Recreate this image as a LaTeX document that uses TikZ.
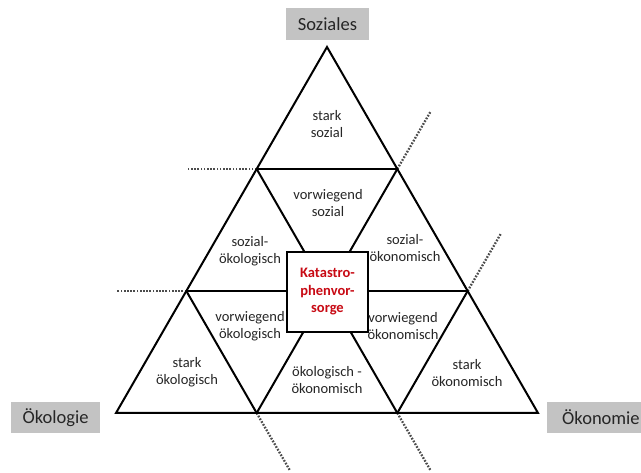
\documentclass[tikz,border=0pt]{standalone}
\usepackage{fontspec}
\setmainfont{Carlito}
\usetikzlibrary{calc}
\definecolor{boxgray}{RGB}{195,195,195}
\definecolor{katred}{RGB}{200,10,20}
\begin{document}
\begin{tikzpicture}[x=1pt,y=-1pt,
  gridline/.style={line width=2pt,black},
  dotline/.style={line width=2.3pt,dash pattern=on 1.7pt off 1.5pt,black!70},
  lbl/.style={align=center,font=\fontsize{14.5}{17}\selectfont,text=black!85,inner sep=0pt},
  graybox/.style={fill=boxgray,draw=none,font=\fontsize{18.5}{20}\selectfont,text=black!85,inner sep=0pt},
  centerbox/.style={draw,fill=white,line width=2pt,minimum width=81pt,minimum height=80pt,inner sep=0pt,
     align=center,font=\bfseries\fontsize{14.5}{17.5}\selectfont,text=katred}]
\useasboundingbox (0,0) rectangle (641,473);
\clip (0,0) rectangle (641,473);
\fill[white] (0,0) rectangle (641,473);
% main vertices
\coordinate (A) at (327,47);
\coordinate (L) at (116,413);
\coordinate (R) at (538,413);
\coordinate (a1) at ($(A)!1/3!(L)$);
\coordinate (b1) at ($(A)!1/3!(R)$);
\coordinate (a2) at ($(A)!2/3!(L)$);
\coordinate (b2) at ($(A)!2/3!(R)$);
\coordinate (l1) at ($(L)!1/3!(R)$);
\coordinate (l2) at ($(L)!2/3!(R)$);
% dotted ends
\coordinate (da1) at ($(a1)+(-70,0)$);
\coordinate (da2) at ($(a2)+(-70,0)$);
\coordinate (db1) at ($(b1)+(33,-57)$);
\coordinate (db2) at ($(b2)+(33,-57)$);
\coordinate (dl1) at ($(l1)+(33,57)$);
\coordinate (dl2) at ($(l2)+(33,57)$);
% dotted lines
\draw[dotline] (a1) -- (da1);
\draw[dotline] (a2) -- (da2);
\draw[dotline] (b1) -- (db1);
\draw[dotline] (b2) -- (db2);
\draw[dotline] (l1) -- (dl1);
\draw[dotline] (l2) -- (dl2);
% grid
\draw[gridline] (A) -- (L) -- (R) -- cycle;
\draw[gridline] (a1) -- (b1);
\draw[gridline] (a2) -- (b2);
\draw[gridline] (a1) -- (l2);
\draw[gridline] (b1) -- (l1);
\draw[gridline] (a2) -- (l1);
\draw[gridline] (b2) -- (l2);
% center box
\node[centerbox] (kat) at (327.5,292) {Katastro-\\phenvor-\\sorge};
% labels
\node[lbl] (ss) at (327,124) {stark\\sozial};
\node[lbl] (vs) at (328,203) {vorwiegend\\sozial};
\node[lbl] (soe) at (250,251) {sozial-\\ökologisch};
\node[lbl] (sok) at (405,248) {sozial-\\ökonomisch};
\node[lbl] (voe) at (250,326) {vorwiegend\\ökologisch};
\node[lbl] (vok) at (403,326) {vorwiegend\\ökonomisch};
\node[lbl] (oeok) at (327,380) {ökologisch -\\ökonomisch};
\node[lbl] (stoe) at (187,372) {stark\\ökologisch};
\node[lbl] (stok) at (467,373) {stark\\ökonomisch};
% corner boxes
\node[graybox,minimum width=83pt,minimum height=32pt] (soz) at (327.5,24) {Soziales};
\node[graybox,minimum width=89pt,minimum height=31pt] (oek) at (55.5,417.5) {Ökologie};
\node[graybox,anchor=west,minimum height=31pt,inner xsep=15pt] (oekon) at (547,417.5) {Ökonomie};
\end{tikzpicture}
\end{document}
